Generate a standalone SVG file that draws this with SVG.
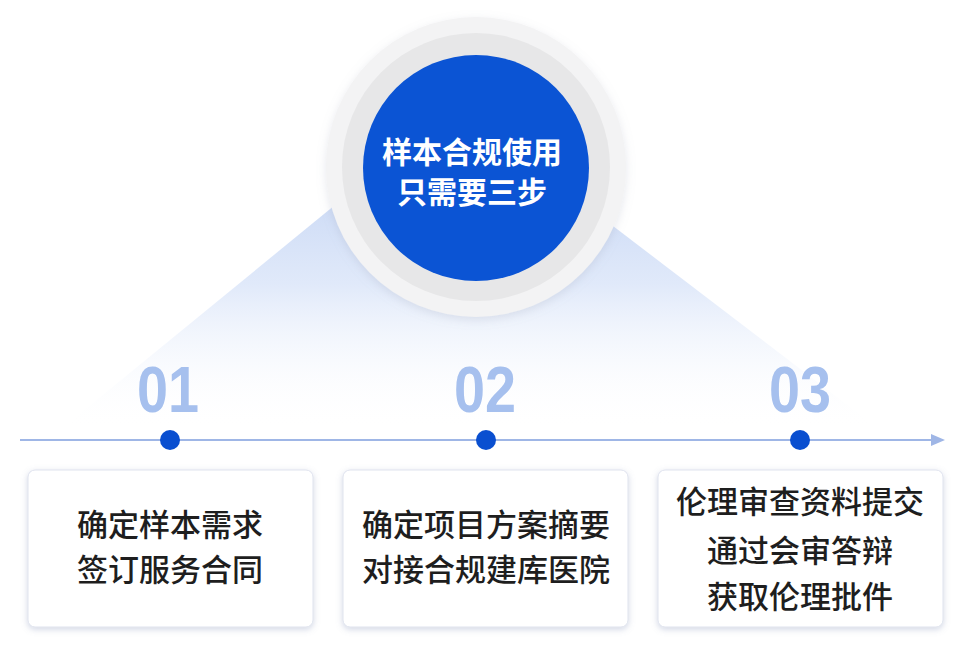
<svg xmlns="http://www.w3.org/2000/svg" width="968" height="647" viewBox="0 0 968 647">
<defs>
<linearGradient id="tri" x1="0" y1="0" x2="0" y2="1">
<stop offset="0" stop-color="#b3c8f0" stop-opacity="1"/>
<stop offset="0.55" stop-color="#d6e2f8" stop-opacity="0.75"/>
<stop offset="1" stop-color="#ffffff" stop-opacity="0"/>
</linearGradient>
<filter id="sh" x="-10%" y="-10%" width="120%" height="130%">
<feDropShadow dx="0" dy="2" stdDeviation="3" flood-color="#7d8bb5" flood-opacity="0.35"/>
</filter>
<filter id="csh" x="-20%" y="-20%" width="140%" height="140%">
<feDropShadow dx="0" dy="3" stdDeviation="5" flood-color="#9aa3b5" flood-opacity="0.25"/>
</filter>
<marker id="arr" viewBox="0 0 14 12" refX="2" refY="6" markerWidth="14" markerHeight="12" markerUnits="userSpaceOnUse" orient="auto">
<path d="M0,0 L14,6 L0,12 Z" fill="#9fb6e6"/>
</marker>
<style>
.box{fill:#ffffff;stroke:#dfe3ee;stroke-width:1;filter:url(#sh)}
.num{font-family:"Liberation Sans",Arial,sans-serif;font-weight:bold;font-size:64px;fill:#a6c0ee;text-anchor:middle}
.t{font-family:"Noto Sans CJK SC","Noto Sans",sans-serif;font-size:31px;font-weight:500;fill:#1e1e1e;text-anchor:middle}
.ct{font-family:"Noto Sans CJK SC","Noto Sans",sans-serif;font-size:30px;font-weight:bold;fill:#ffffff;text-anchor:middle}
.dot{fill:#0a4fd0}
</style>
</defs>
<rect width="968" height="647" fill="#ffffff"/>
<polygon points="456,106 60,430 880,430" fill="url(#tri)"/>
<g id="center">
<circle cx="476" cy="167" r="150" fill="#f3f3f4" filter="url(#csh)"/>
<circle cx="476" cy="167" r="134" fill="#e7e7e8"/>
<circle cx="476" cy="168" r="113" fill="#0b54d4"/>
<text class="ct" x="472" y="163">样本合规使用</text>
<text class="ct" x="472" y="203">只需要三步</text>
</g>
<g id="connectors">
<line x1="20" y1="440" x2="933" y2="440" stroke="#9fb6e6" stroke-width="2" marker-end="url(#arr)"/>
</g>
<g id="step1">
<text class="num" x="168" y="412" textLength="62" lengthAdjust="spacingAndGlyphs">01</text>
<circle class="dot" cx="170" cy="440" r="10"/>
<rect class="box" x="28" y="470" width="285" height="157" rx="7"/>
<text class="t" x="170" y="536">确定样本需求</text>
<text class="t" x="170" y="581">签订服务合同</text>
</g>
<g id="step2">
<text class="num" x="485" y="412" textLength="62" lengthAdjust="spacingAndGlyphs">02</text>
<circle class="dot" cx="486" cy="440" r="10"/>
<rect class="box" x="343" y="470" width="285" height="157" rx="7"/>
<text class="t" x="486" y="536">确定项目方案摘要</text>
<text class="t" x="486" y="581">对接合规建库医院</text>
</g>
<g id="step3">
<text class="num" x="800" y="412" textLength="62" lengthAdjust="spacingAndGlyphs">03</text>
<circle class="dot" cx="800" cy="440" r="10"/>
<rect class="box" x="658" y="470" width="285" height="157" rx="7"/>
<text class="t" x="800" y="513">伦理审查资料提交</text>
<text class="t" x="800" y="562">通过会审答辩</text>
<text class="t" x="800" y="608">获取伦理批件</text>
</g>
</svg>
